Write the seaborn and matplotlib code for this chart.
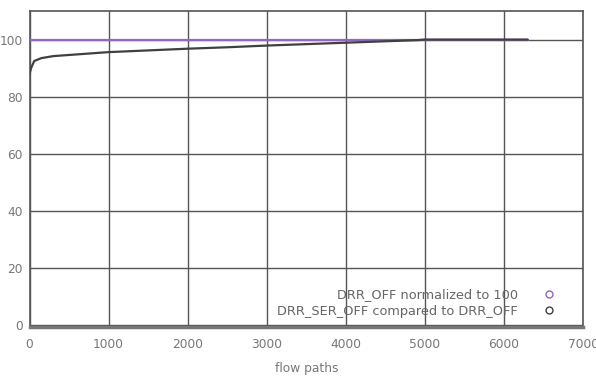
import matplotlib
matplotlib.use('Agg')
import matplotlib.pyplot as plt
import seaborn as sns
import pandas as pd
from matplotlib.lines import Line2D

# Data
base_paths = [0, 6300]
base_values = [100, 100]

ser_paths = [0, 20, 60, 150, 300, 600, 1000, 1500, 2000, 2500, 3000,
             3500, 4000, 4500, 4900, 5000, 6300]
ser_values = [88, 90, 92.5, 93.5, 94.2, 94.8, 95.6, 96.2, 96.8, 97.3, 97.9,
              98.4, 98.9, 99.4, 99.8, 100, 100]

x_ticks = [0, 1000, 2000, 3000, 4000, 5000, 6000, 7000]
y_ticks = [0, 20, 40, 60, 80, 100]
labels = ['DRR_OFF normalized to 100', 'DRR_SER_OFF compared to DRR_OFF']
colors = ['#9467bd', '#404040']

df_base = pd.DataFrame({'flow paths': base_paths, 'value': base_values})
df_ser = pd.DataFrame({'flow paths': ser_paths, 'value': ser_values})

sns.set_style('white')
plt.rcParams['font.family'] = ['DejaVu Sans']

fig = plt.figure(figsize=(5.96, 3.76), dpi=100)
ax = fig.add_axes([0.0495, 0.1303, 0.9287, 0.8404])

sns.lineplot(data=df_base, x='flow paths', y='value', ax=ax,
             color=colors[0], linewidth=1.6, zorder=3)
sns.lineplot(data=df_ser, x='flow paths', y='value', ax=ax,
             color=colors[1], linewidth=1.6, zorder=4)

ax.set_xlim(0, 7000)
ax.set_ylim(-0.7, 110)
ax.set_xticks(x_ticks)
ax.set_yticks(y_ticks)
ax.grid(True, color='#555555', linewidth=1.0)
ax.set_axisbelow(True)
for side in ['top', 'right', 'left']:
    ax.spines[side].set_color('#555555')
    ax.spines[side].set_linewidth(1.2)
ax.spines['bottom'].set_color('#777777')
ax.spines['bottom'].set_linewidth(2.5)

ax.tick_params(axis='both', length=0, labelsize=8.8, labelcolor='#777777')
ax.tick_params(axis='x', pad=8)
ax.tick_params(axis='y', pad=5)
ax.set_ylabel('')
ax.set_xlabel('flow paths', fontsize=8.8, color='#777777', labelpad=8)

handles = [Line2D([], [], linestyle='none', marker='o', markersize=5,
                  markerfacecolor='none', markeredgecolor=c, markeredgewidth=1)
           for c in colors]
ax.legend(handles, labels, loc='lower right', frameon=False, markerfirst=False,
          fontsize=9.3, labelcolor='#666666', handletextpad=1.4,
          borderaxespad=0.3, labelspacing=0.3, bbox_to_anchor=(0.978, 0.0))

plt.savefig('out.png', dpi=100)
plt.close()
